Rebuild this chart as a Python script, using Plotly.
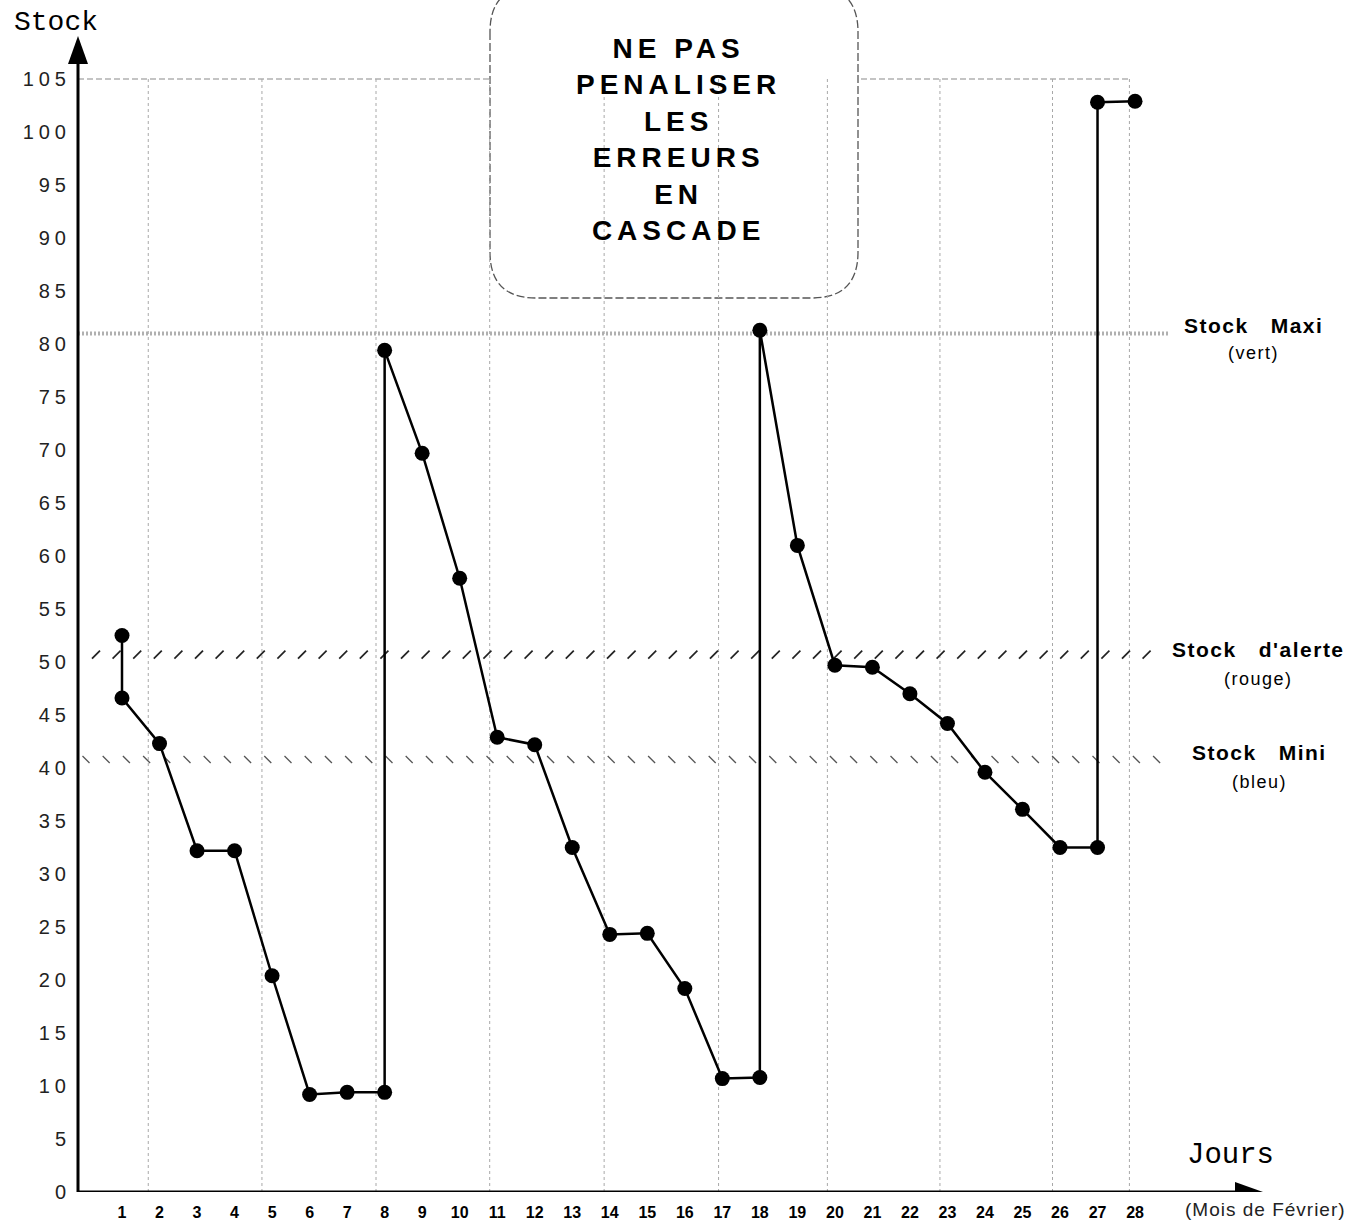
import numpy as np
import plotly.graph_objects as go

# ---------------- data ----------------
days = [1, 1, 2, 3, 4, 5, 6, 7, 8, 8, 9, 10, 11, 12, 13, 14, 15, 16, 17, 18, 18,
        19, 20, 21, 22, 23, 24, 25, 26, 27, 27, 28]
stock = [52.5, 46.6, 42.3, 32.2, 32.2, 20.4, 9.2, 9.4, 9.4, 79.4, 69.7, 57.9, 42.9,
         42.2, 32.5, 24.3, 24.4, 19.2, 10.7, 10.8, 81.3, 61.0, 49.7, 49.5, 47.0,
         44.2, 39.6, 36.1, 32.5, 32.5, 102.8, 102.9]

day_ticks = list(range(1, 29))
stock_ticks = list(range(0, 106, 5))

stock_maxi = 81.0
stock_alerte = 50.7
stock_mini = 40.8

grid_days = [1.7, 4.73, 7.77, 10.8, 13.85, 16.9, 19.8, 22.8, 25.8, 27.85]
grid_top = 105

box_lines = ["NE PAS", "PENALISER", "LES", "ERREURS", "EN", "CASCADE"]

# ---------------- geometry (pixels) ----------------
W, H = 1359, 1222
L, R = 78, 1280
T, B = 20, 1192
PX_PER_DAY = 37.52
DAY1_PX = 122
PX_PER_UNIT = 10.6

x_range = [1 - (DAY1_PX - L) / PX_PER_DAY, 1 + (R - DAY1_PX) / PX_PER_DAY]
y_range = [0, (B - T) / PX_PER_UNIT]


def pxx(px):
    return (px - L) / (R - L)


def pyy(py):
    return (B - py) / (B - T)


def day_at(px):
    return 1 + (px - DAY1_PX) / PX_PER_DAY


def ls(text, sp):
    return f'<span style="letter-spacing:{sp}px">{text}</span>'


fig = go.Figure()

# hatch patterns for the alert / mini lines
alerte_x = np.arange(day_at(96), day_at(1162), 20.6 / PX_PER_DAY)
mini_x = np.arange(day_at(86), day_at(1166), 20.2 / PX_PER_DAY)
fig.add_trace(go.Scatter(
    x=alerte_x, y=[stock_alerte] * len(alerte_x), mode="markers",
    marker=dict(symbol="line-ne", size=8, line=dict(width=1.7, color="#222")),
    hoverinfo="skip", showlegend=False, cliponaxis=False))
fig.add_trace(go.Scatter(
    x=mini_x, y=[stock_mini] * len(mini_x), mode="markers",
    marker=dict(symbol="line-nw", size=7, line=dict(width=1.3, color="#555")),
    hoverinfo="skip", showlegend=False, cliponaxis=False))

# stock curve
fig.add_trace(go.Scatter(
    x=days, y=stock, mode="lines+markers",
    line=dict(color="black", width=2.5),
    marker=dict(size=15, color="black"),
    showlegend=False, cliponaxis=False))

shapes = []
# faint vertical grid
for gd in grid_days:
    shapes.append(dict(type="line", xref="x", yref="y", x0=gd, x1=gd, y0=0, y1=grid_top,
                       line=dict(color="#a8a8a8", width=1, dash="dot"), layer="below"))
# top grid line
shapes.append(dict(type="line", xref="paper", yref="y", x0=0, x1=pxx(1130),
                   y0=grid_top, y1=grid_top,
                   line=dict(color="#8a8a8a", width=1.2, dash="6px,3px"), layer="below"))
# stock maxi line (grey dotted band)
shapes.append(dict(type="line", xref="paper", yref="y", x0=0, x1=pxx(1170),
                   y0=stock_maxi, y1=stock_maxi,
                   line=dict(color="#b0b0b0", width=4, dash="2px,2px"), layer="below"))

# rounded message box
bx0, bx1, by0, by1, r = 490, 858, -14, 298, 46


def P(x, y):
    return f"{pxx(x):.5f},{pyy(y):.5f}"


box_path = (f"M{P(bx0, by0 + r)} L{P(bx0, by1 - r)} Q{P(bx0, by1)} {P(bx0 + r, by1)} "
            f"L{P(bx1 - r, by1)} Q{P(bx1, by1)} {P(bx1, by1 - r)} "
            f"L{P(bx1, by0 + r)} Q{P(bx1, by0)} {P(bx1 - r, by0)} "
            f"L{P(bx0 + r, by0)} Q{P(bx0, by0)} {P(bx0, by0 + r)} Z")
shapes.append(dict(type="path", xref="paper", yref="paper", path=box_path,
                   fillcolor="white", line=dict(color="#555", width=1.3, dash="8px,3px"),
                   layer="below"))

# axes lines
shapes.append(dict(type="line", xref="paper", yref="y", x0=0, x1=0, y0=0,
                   y1=(B - 60) / PX_PER_UNIT, line=dict(color="black", width=3)))
shapes.append(dict(type="line", xref="paper", yref="y", x0=0, x1=pxx(1240), y0=0, y1=0,
                   line=dict(color="black", width=3)))
# arrow heads
shapes.append(dict(type="path", xref="paper", yref="y", xsizemode="pixel", ysizemode="pixel",
                   xanchor=0, yanchor=(B - 36) / PX_PER_UNIT,
                   path="M0,0 L-10,-28 L10,-28 Z", fillcolor="black", line=dict(width=0)))
shapes.append(dict(type="path", xref="paper", yref="y", xsizemode="pixel", ysizemode="pixel",
                   xanchor=pxx(1263), yanchor=0,
                   path="M0,0 L-28,10 L-28,-10 Z", fillcolor="black", line=dict(width=0)))

annotations = []
SANS = "Liberation Sans, Arial, Helvetica, sans-serif"
MONO = "Liberation Mono, Courier New, monospace"


def note(px, py, text, font, **kw):
    annotations.append(dict(xref="paper", yref="paper", x=pxx(px), y=pyy(py),
                            xanchor="center", yanchor="middle", text=text,
                            showarrow=False, font=font, **kw))


note(56, 22, "Stock", dict(family=MONO, size=28, color="black"))
note(1230, 1155, "Jours", dict(family=MONO, size=29, color="black"))
note(1265, 1210, ls("(Mois de Février)", 1), dict(family=SANS, size=19, color="#222"))

box_text = "<br>".join(ls(t, 5) for t in box_lines)
note(678, 140, "<b>" + box_text + "</b>", dict(family=SANS, size=28, color="black"),
     align="center")

labels = [
    ("Stock\u00a0\u00a0 Maxi", "(vert)", 1253, 325, 353),
    ("Stock\u00a0\u00a0 d'alerte", "(rouge)", 1258, 649, 679),
    ("Stock\u00a0\u00a0 Mini", "(bleu)", 1259, 752, 782),
]
for main, sub, cx, y1, y2 in labels:
    note(cx, y1, "<b>" + ls(main, 1.5) + "</b>", dict(family=SANS, size=21, color="black"))
    note(cx, y2, ls(sub, 1.5), dict(family=SANS, size=18, color="black"))

fig.update_layout(
    width=W, height=H, autosize=False,
    margin=dict(l=L, r=W - R, t=T, b=H - B, pad=0),
    paper_bgcolor="white", plot_bgcolor="white",
    showlegend=False,
    shapes=shapes, annotations=annotations,
    xaxis=dict(range=x_range, tickmode="array", tickvals=day_ticks,
               ticktext=[f"<b>{d}</b>" for d in day_ticks], showgrid=False,
               zeroline=False, showline=False, ticks="", ticklabelstandoff=9,
               automargin=False,
               tickfont=dict(family="Liberation Sans Narrow, Arial Narrow, " + SANS,
                             size=16, color="black")),
    yaxis=dict(range=y_range, tickmode="array", tickvals=stock_ticks,
               ticktext=[ls(str(v), 5) for v in stock_ticks], showgrid=False,
               zeroline=False, showline=False, ticks="", ticklabelstandoff=6,
               automargin=False,
               tickfont=dict(family=SANS, size=20, color="#222")),
)

fig.write_html("out.html", config={"displayModeBar": False},
               post_script="document.body.style.margin='0px';"
                           "document.body.style.overflow='hidden';")
